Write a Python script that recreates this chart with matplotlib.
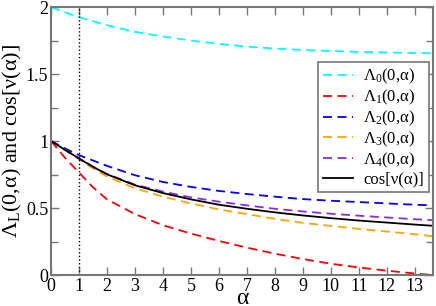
import matplotlib
matplotlib.use("Agg")
import matplotlib.pyplot as plt
from matplotlib.ticker import MultipleLocator

plt.rcParams['font.family'] = ['Liberation Serif', 'DejaVu Serif']
plt.rcParams['mathtext.fontset'] = 'custom'
plt.rcParams['mathtext.rm'] = 'Liberation Serif'
plt.rcParams['mathtext.it'] = 'Liberation Serif:italic'

# values
alpha = [0, 0.5, 1, 1.5, 2, 3, 4, 5, 6, 7, 8, 9, 10, 11, 12, 13, 13.65]
lam0 = [2.0, 1.96, 1.925, 1.895, 1.865, 1.815, 1.78, 1.75, 1.725, 1.705, 1.69, 1.68, 1.672, 1.666, 1.661, 1.657, 1.655]
lam1 = [1.0, 0.875, 0.765, 0.655, 0.565, 0.455, 0.372, 0.31, 0.255, 0.205, 0.16, 0.12, 0.085, 0.057, 0.033, 0.012, 0.0]
lam2 = [1.0, 0.945, 0.895, 0.855, 0.815, 0.745, 0.695, 0.658, 0.628, 0.605, 0.585, 0.567, 0.555, 0.545, 0.535, 0.525, 0.52]
lam3 = [1.0, 0.93, 0.865, 0.795, 0.735, 0.648, 0.585, 0.535, 0.49, 0.455, 0.42, 0.39, 0.367, 0.345, 0.325, 0.305, 0.29]
lam4 = [1.0, 0.935, 0.87, 0.81, 0.755, 0.675, 0.623, 0.58, 0.548, 0.52, 0.495, 0.475, 0.458, 0.443, 0.43, 0.417, 0.41]
cosnu = [1.0, 0.935, 0.87, 0.808, 0.752, 0.67, 0.612, 0.565, 0.525, 0.495, 0.468, 0.445, 0.425, 0.407, 0.392, 0.377, 0.368]

fig = plt.figure(figsize=(4.36, 3.06), dpi=100)
ax = fig.add_axes([0.117, 0.101, 0.876, 0.876])

dash = (0, (5, 3))
ax.plot(alpha, lam0, color='cyan', ls=dash, lw=1.3, label='Λ$_0$(0,α)')
ax.plot(alpha, lam1, color='red', ls=dash, lw=1.3, label='Λ$_1$(0,α)')
ax.plot(alpha, lam2, color='blue', ls=dash, lw=1.3, label='Λ$_2$(0,α)')
ax.plot(alpha, lam3, color='orange', ls=dash, lw=1.3, label='Λ$_3$(0,α)')
ax.plot(alpha, lam4, color='#8a2be2', ls=dash, lw=1.3, label='Λ$_4$(0,α)')
ax.plot(alpha, cosnu, color='black', lw=1.3, label='cos[ν(α)]')
ax.axvline(1, color='black', ls=':', lw=1.0)

ax.set_xlim(0, 13.65)
ax.set_ylim(0, 2)
ax.xaxis.set_major_locator(MultipleLocator(1))
ax.yaxis.set_major_locator(MultipleLocator(0.5))
ax.yaxis.set_minor_locator(MultipleLocator(0.25))
ax.tick_params(which='both', direction='in', top=True, right=True,
               color='#777777', width=1.0, labelsize=13, pad=2)
ax.tick_params(which='major', length=6)
ax.tick_params(which='minor', length=5)
ax.set_yticks([0, 0.5, 1, 1.5, 2], ['0', '0.5', '1', '1.5', '2'])
for s in ax.spines.values():
    s.set_color('#777777')
    s.set_linewidth(1.5)

# x label baseline sits almost on the bottom edge, as in the reference
ax.set_xlabel('α', fontsize=17)
ax.xaxis.label.set_va('baseline')
ax.xaxis.set_label_coords(0.5, -0.106)
ax.set_ylabel('Λ$_\\mathrm{L}$(0,α) and cos[ν(α)]', fontsize=16, labelpad=1)

leg = ax.legend(loc='upper right', bbox_to_anchor=(0.99, 0.795), borderaxespad=0,
                fontsize=12, fancybox=False, framealpha=1, edgecolor='#777777',
                handlelength=1.8, handletextpad=0.6, labelspacing=0.1, borderpad=0.3)
leg.get_frame().set_linewidth(1.2)

fig.savefig("out.png", dpi=100)
